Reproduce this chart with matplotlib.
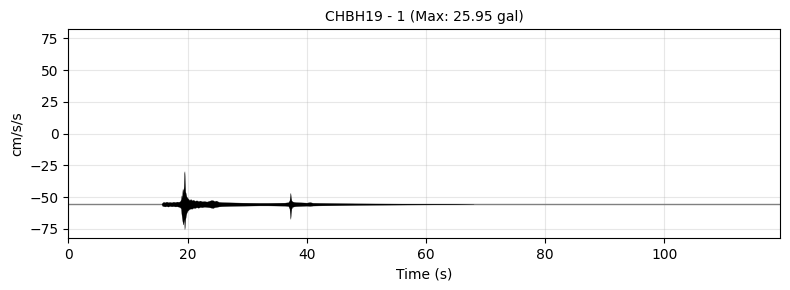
import matplotlib
matplotlib.use("Agg")
import matplotlib.pyplot as plt
import numpy as np

title = "CHBH19 - 1 (Max: 25.95 gal)"
baseline = -55.6
t_end = 119.4
y_lim = 82.1

# envelope of the acceleration trace (offset from baseline, cm/s/s)
env_t  = [15.6, 15.75, 15.95, 16.2, 16.45, 16.7, 17.0, 17.3, 17.6, 17.9, 18.2, 18.5, 18.75,
          18.88, 18.97, 19.05, 19.15, 19.25, 19.35, 19.42, 19.47, 19.53, 19.6, 19.7, 19.8,
          19.95, 20.1, 20.3, 20.5, 20.7, 20.95, 21.2, 21.5, 21.8, 22.1, 22.4, 22.8, 23.2,
          23.6, 24.0, 24.25, 24.5, 24.8, 25.2, 25.7, 26.3, 27.0, 28.0, 29.0, 30.5, 32.0,
          33.5, 35.0, 36.3, 36.9, 37.1, 37.25, 37.32, 37.42, 37.55, 37.8, 38.1, 38.5, 39.0,
          39.5, 40.0, 40.5, 41.0, 42.0, 43.5, 45.0, 48.0, 52.0, 56.0, 60.0, 64.0, 68.0]
env_up = [0.0, 1.2, 1.8, 1.4, 2.0, 1.5, 1.7, 1.4, 1.9, 1.6, 2.0, 1.8, 2.4,
          4.0, 7.0, 5.0, 12.0, 9.0, 14.0, 24.0, 25.95, 18.0, 10.0, 8.0, 6.0,
          5.0, 4.2, 3.2, 4.0, 3.0, 3.4, 2.6, 3.0, 2.4, 2.8, 2.2, 2.4, 2.0,
          2.6, 3.2, 3.0, 2.4, 2.8, 1.8, 1.6, 1.5, 1.4, 1.3, 1.2, 1.1, 1.0,
          1.0, 1.1, 1.2, 1.5, 3.0, 8.9, 5.5, 3.0, 2.2, 1.8, 1.6, 1.5, 1.4,
          1.3, 1.2, 1.6, 1.1, 1.0, 0.9, 0.8, 0.6, 0.5, 0.4, 0.3, 0.2, 0.0]
env_dn = [0.0, 1.3, 1.6, 1.8, 1.5, 1.9, 1.4, 1.7, 1.5, 1.8, 1.7, 2.0, 2.6,
          3.5, 8.0, 11.0, 14.0, 16.0, 13.0, 12.0, 19.7, 17.0, 12.0, 9.0, 7.0,
          5.4, 4.6, 3.8, 3.4, 3.6, 2.8, 3.0, 2.4, 2.8, 2.2, 2.4, 2.0, 2.2,
          2.4, 2.8, 3.0, 2.4, 2.2, 1.8, 1.6, 1.5, 1.4, 1.3, 1.2, 1.1, 1.0,
          1.0, 1.1, 1.2, 1.5, 3.5, 11.6, 7.5, 3.5, 2.2, 1.8, 1.6, 1.5, 1.4,
          1.3, 1.2, 1.4, 1.1, 1.0, 0.9, 0.8, 0.6, 0.4, 0.3, 0.2, 0.1, 0.0]

x_ticks = [0, 20, 40, 60, 80, 100]
y_ticks = [-75, -50, -25, 0, 25, 50, 75]

fig = plt.figure(figsize=(7.9, 2.9), dpi=100)
ax = fig.add_axes([0.0867, 0.180, 0.9003, 0.719])

t = np.array(env_t)
up = baseline + np.array(env_up)
dn = baseline - np.array(env_dn)
ax.axhline(baseline, color="gray", linewidth=1.0, zorder=1.5)
ax.fill_between(t, dn, up, color="black", linewidth=0.2, edgecolor="black", zorder=2)

ax.set_xlim(0, t_end)
ax.set_ylim(-y_lim, y_lim)
ax.set_xticks(x_ticks)
ax.set_yticks(y_ticks)
ax.grid(True, alpha=0.3)
ax.set_axisbelow(True)
ax.set_xlabel("Time (s)")
ax.set_ylabel("cm/s/s")
ax.set_title(title, fontsize=10)

fig.savefig("out.png", dpi=100)
